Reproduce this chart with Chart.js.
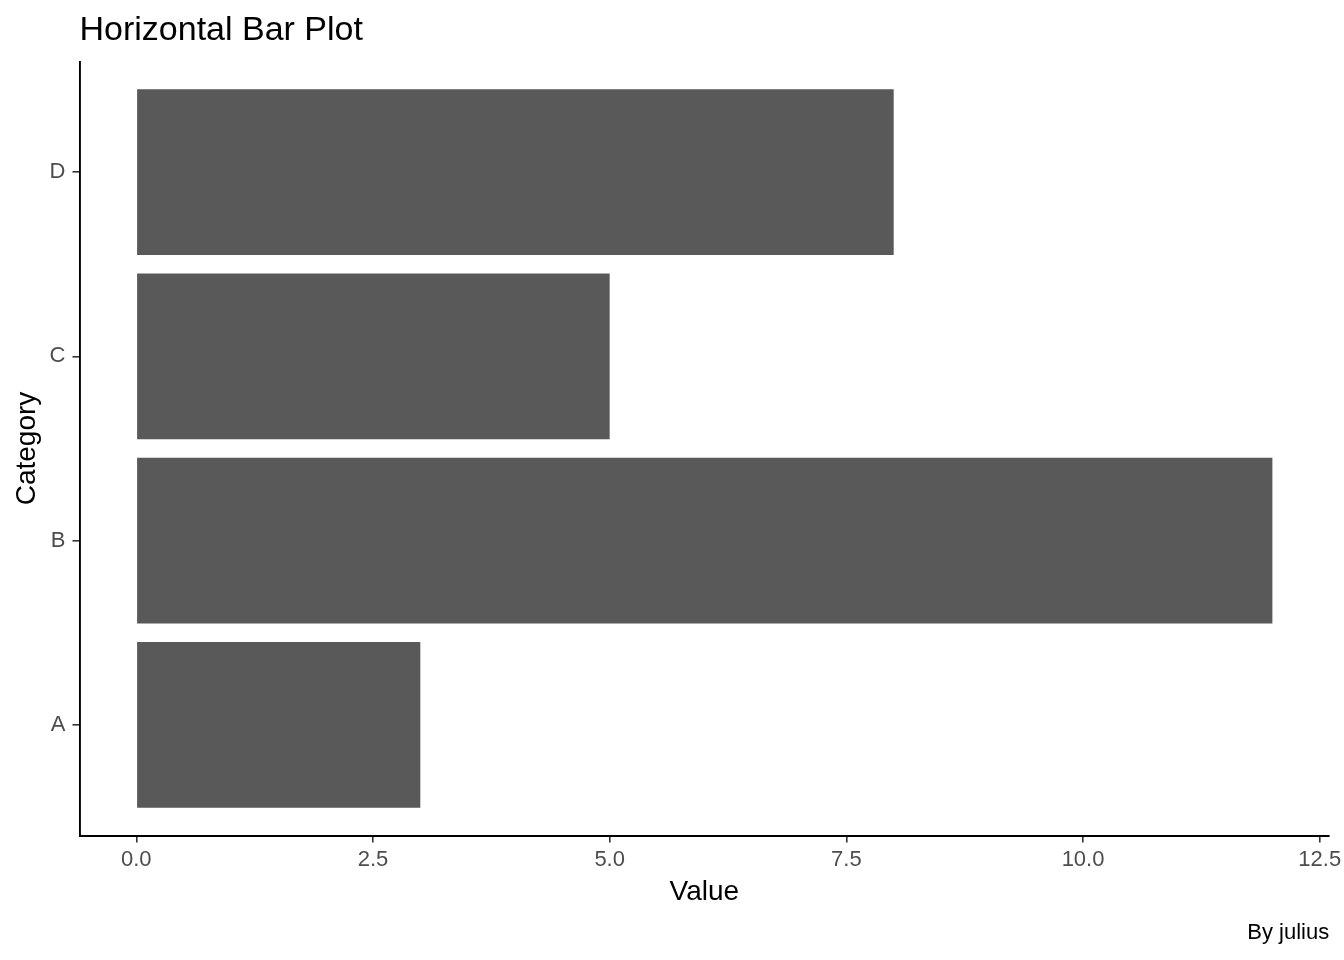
<!DOCTYPE html>
<html>
<head>
<meta charset="utf-8">
<script src="https://cdn.jsdelivr.net/npm/chart.js@4/dist/chart.umd.min.js"></script>
<style>
html,body{margin:0;padding:0;background:#ffffff;}
#wrap{width:1344px;height:960px;}
canvas{display:block;}
</style>
</head>
<body>
<div id="wrap"><canvas id="c" width="1344" height="960"></canvas></div>
<script>
// ---- data ----
const categories = ['A', 'B', 'C', 'D'];
const values = [3, 12, 5, 8];
const categoryPositions = [1, 2, 3, 4];
const xTickValues = [0, 2.5, 5, 7.5, 10, 12.5];
const xTickLabels = ['0.0', '2.5', '5.0', '7.5', '10.0', '12.5'];
const xLimits = [-0.6, 12.6];
const yLimits = [0.4, 4.6];
const titleText = 'Horizontal Bar Plot';
const captionText = 'By julius';
const xAxisTitle = 'Value';
const yAxisTitle = 'Category';

// ---- chart ----
const FONT = "'Liberation Sans', Arial, Helvetica, sans-serif";
Chart.defaults.font.family = FONT;

const barData = values.map((v, i) => ({ x: v, y: categoryPositions[i] }));

new Chart(document.getElementById('c'), {
  type: 'bar',
  data: {
    datasets: [{
      data: barData,
      backgroundColor: '#595959',
      borderWidth: 0,
      categoryPercentage: 1.0,
      barPercentage: 0.9
    }]
  },
  options: {
    indexAxis: 'y',
    responsive: false,
    animation: false,
    devicePixelRatio: 1,
    layout: { padding: { top: 0, right: 14.8, bottom: 0, left: 0 } },
    plugins: {
      legend: { display: false },
      tooltip: { enabled: false },
      title: {
        display: true,
        text: titleText,
        position: 'top',
        align: 'start',
        fullSize: false,
        color: '#000000',
        font: { size: 34, weight: 'normal', family: FONT, lineHeight: 1.2 },
        padding: { top: 10, bottom: 10.7 }
      },
      subtitle: {
        display: true,
        text: captionText,
        position: 'bottom',
        align: 'end',
        color: '#000000',
        font: { size: 22, weight: 'normal', family: FONT, lineHeight: 1.2 },
        padding: { top: 0, bottom: 14 }
      }
    },
    scales: {
      x: {
        type: 'linear',
        position: 'bottom',
        offset: false,
        min: xLimits[0],
        max: xLimits[1],
        afterBuildTicks: (s) => { s.ticks = xTickValues.map(v => ({ value: v })); },
        afterFit: (s) => { s.height = 84.1; s.paddingLeft = 0; s.paddingRight = 0; },
        grid: {
          display: true,
          offset: false,
          drawOnChartArea: false,
          drawTicks: true,
          tickLength: 7,
          color: '#333333',
          lineWidth: 1.6
        },
        border: { display: true, color: '#000000', width: 1.9 },
        ticks: {
          color: '#4D4D4D',
          font: { size: 22, family: FONT },
          padding: 4.5,
          autoSkip: false,
          maxRotation: 0,
          minRotation: 0,
          callback: (value) => xTickLabels[xTickValues.indexOf(value)]
        },
        title: {
          display: true,
          text: xAxisTitle,
          color: '#000000',
          font: { size: 28, family: FONT, lineHeight: 1.2 },
          padding: { top: 0, bottom: 10.5 }
        }
      },
      y: {
        type: 'linear',
        position: 'left',
        offset: false,
        min: yLimits[0],
        max: yLimits[1],
        afterBuildTicks: (s) => { s.ticks = categoryPositions.map(v => ({ value: v })); },
        afterFit: (s) => { s.width = 79.5; s.paddingTop = 0; s.paddingBottom = 0; },
        grid: {
          display: true,
          offset: false,
          drawOnChartArea: false,
          drawTicks: true,
          tickLength: 7,
          color: '#333333',
          lineWidth: 1.6
        },
        border: { display: true, color: '#000000', width: 1.9 },
        ticks: {
          color: '#4D4D4D',
          font: { size: 22, family: FONT },
          padding: 7,
          autoSkip: false,
          callback: (value) => categories[categoryPositions.indexOf(value)]
        },
        title: {
          display: true,
          text: yAxisTitle,
          color: '#000000',
          font: { size: 28, family: FONT, lineHeight: 1.2 },
          padding: { top: 10, bottom: 0 }
        }
      }
    }
  }
});
</script>
</body>
</html>
